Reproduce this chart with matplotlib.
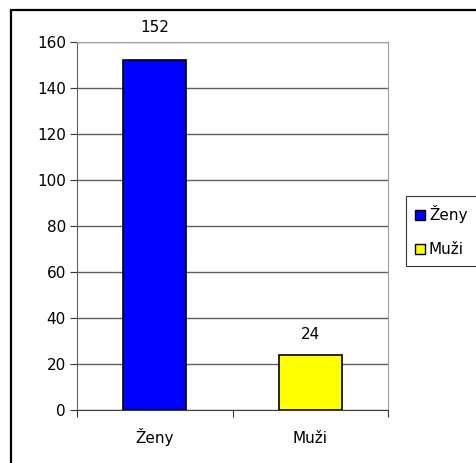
import matplotlib
matplotlib.use("Agg")
import matplotlib.pyplot as plt
from matplotlib.patches import Rectangle, Patch

categories = ["Ženy", "Muži"]
values = [152, 24]
colors = ["#0000ff", "#ffff00"]
yticks = [0, 20, 40, 60, 80, 100, 120, 140, 160]
label_offsets_pt = [18, 9]

plt.rcParams['font.family'] = ['DejaVu Sans']
FS = 11

fig = plt.figure(figsize=(4.77, 4.63), dpi=100)
fig.patches.append(Rectangle((11/477, -0.1), 1.0, 1.1 - 10/463, transform=fig.transFigure,
                             fill=False, edgecolor='black', linewidth=1.6, zorder=0))
ax = fig.add_axes([77/477, 1 - 410/463, (388 - 77)/477, (410 - 42)/463])

x = [0, 1]
ax.bar(x, values, width=0.405, color=colors, edgecolor='black', linewidth=1.2, zorder=3)
for xi, v, off in zip(x, values, label_offsets_pt):
    ax.annotate(str(v), (xi, v), xytext=(0, off), textcoords='offset points',
                ha='center', va='bottom', fontsize=FS)

ax.set_xlim(-0.5, 1.5)
ax.set_ylim(0, 160)
ax.set_yticks(yticks)
ax.set_xticks([-0.5, 0.5, 1.5], minor=False)
ax.set_xticklabels([])
ax.set_xticks(x, minor=True)
ax.set_xticklabels(categories, minor=True, fontsize=FS)
for lbl in ax.get_xticklabels(minor=True):
    lbl.set_va('baseline')
ax.tick_params(axis='x', which='minor', length=0, pad=24)
ax.tick_params(axis='x', which='major', length=5, direction='out', color='#333333')
ax.tick_params(axis='y', length=5, direction='out', labelsize=FS, color='#333333', pad=3)
ax.yaxis.grid(True, color='#606060', linewidth=1.0, zorder=0)
ax.set_axisbelow(True)
for s in ['top', 'right']:
    ax.spines[s].set_color('#a0a0a0')
ax.spines['left'].set_color('#606060')
ax.spines['bottom'].set_color('#404040')

handles = [Patch(facecolor=c, edgecolor='black', label=l) for c, l in zip(colors, categories)]
leg = fig.legend(handles=handles, loc='upper left',
                 bbox_to_anchor=(406/477, 1 - 268/463, 0.2, 72/463), mode='expand',
                 bbox_transform=fig.transFigure, frameon=True, fancybox=False,
                 edgecolor='black', fontsize=FS, handlelength=0.65, handleheight=0.65,
                 handletextpad=0.25, labelspacing=1.25, borderpad=0.6, borderaxespad=0)
leg.get_frame().set_linewidth(0.8)

fig.savefig("out.png", dpi=100)
